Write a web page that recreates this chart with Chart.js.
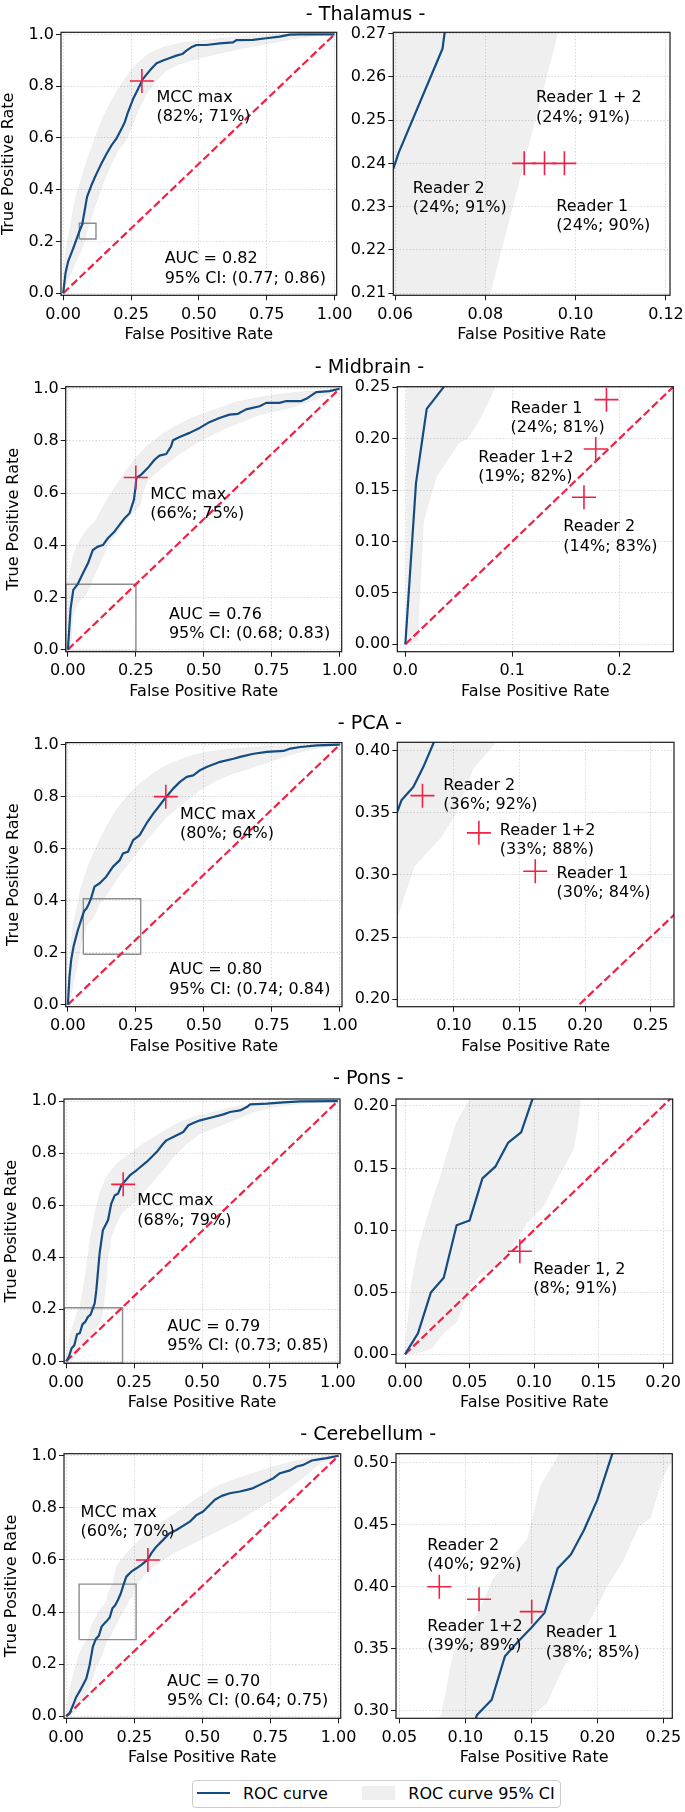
<!DOCTYPE html>
<html><head><meta charset="utf-8">
<script src="https://cdn.jsdelivr.net/npm/chart.js@4.4.1/dist/chart.umd.min.js"></script>
<style>
html,body{margin:0;padding:0;background:#fff;width:685px;height:1812px;overflow:hidden;position:relative;font-family:"DejaVu Sans";}
canvas{position:absolute;}
.ttl{position:absolute;font-size:19.2px;line-height:20px;white-space:nowrap;color:#000;transform:translateX(-50%);font-family:"DejaVu Sans";}
.lg{position:absolute;font-size:16px;line-height:20px;white-space:nowrap;color:#000;font-family:"DejaVu Sans";}
</style></head><body>
<script>
// ---------------- DATA ----------------
const regionNames = ['Thalamus', 'Midbrain', 'PCA', 'Pons', 'Cerebellum'];
const chanceLine = [[0,0],[1,1]];
const fullXTicks = [0, 0.25, 0.5, 0.75, 1];
const fullYTicks = [0, 0.2, 0.4, 0.6, 0.8, 1];

// Thalamus
const thalamusRoc = [[0,0],[0.0086,0.077],[0.018,0.122],[0.037,0.173],[0.06,0.24],[0.0608,0.2425],[0.0705,0.2665],[0.0712,0.272],[0.088,0.372],[0.104,0.417],[0.123,0.462],[0.141,0.501],[0.16,0.539],[0.178,0.571],[0.196,0.597],[0.215,0.635],[0.227,0.661],[0.239,0.70],[0.258,0.751],[0.276,0.789],[0.294,0.828],[0.319,0.86],[0.344,0.888],[0.368,0.899],[0.393,0.909],[0.417,0.918],[0.439,0.924],[0.454,0.937],[0.472,0.95],[0.491,0.959],[0.528,0.959],[0.577,0.965],[0.626,0.969],[0.638,0.978],[0.699,0.979],[0.748,0.985],[0.798,0.991],[0.834,0.999],[0.871,1],[1,1]];
const thalamusCiUpper = [[0,0],[0.0025,0.077],[0.0074,0.154],[0.022,0.231],[0.043,0.359],[0.08,0.488],[0.123,0.616],[0.147,0.68],[0.178,0.745],[0.215,0.809],[0.258,0.873],[0.313,0.924],[0.368,0.95],[0.442,0.969],[0.564,0.982],[0.687,0.995],[0.81,1],[1,1]];
const thalamusCiLower = [[0,0],[0.012,0.0385],[0.039,0.103],[0.067,0.167],[0.081,0.21],[0.096,0.27],[0.104,0.295],[0.125,0.359],[0.147,0.424],[0.172,0.488],[0.202,0.552],[0.231,0.59],[0.252,0.642],[0.276,0.706],[0.307,0.77],[0.344,0.822],[0.38,0.86],[0.429,0.886],[0.491,0.905],[0.564,0.924],[0.65,0.944],[0.748,0.963],[0.847,0.982],[0.933,0.995],[1,1]];
const thalamusMcc = [0.29, 0.82];
const thalamusMccText = ['MCC max', '(82%; 71%)'];
const thalamusAucText = ['AUC = 0.82', '95% CI: (0.77; 0.86)'];
const thalamusZoom = [0.0596, 0.1209, 0.2095, 0.2703];
const thalamusZoomXTicks = [0.06, 0.08, 0.10, 0.12];
const thalamusZoomYTicks = [0.21, 0.22, 0.23, 0.24, 0.25, 0.26, 0.27];
const thalamusReaders = [[0.0886,0.24],[0.0931,0.24],[0.0975,0.24]];
const thalamusReaderText = [['Reader 2','(24%; 91%)'],['Reader 1 + 2','(24%; 91%)'],['Reader 1','(24%; 90%)']];

// Midbrain
const midbrainRoc = [[0,0],[0.01,0.157],[0.02,0.229],[0.0356,0.25],[0.055,0.292],[0.074,0.331],[0.092,0.382],[0.11,0.395],[0.129,0.401],[0.147,0.427],[0.172,0.453],[0.19,0.478],[0.209,0.504],[0.227,0.523],[0.243,0.574],[0.248,0.613],[0.252,0.658],[0.27,0.671],[0.294,0.696],[0.319,0.728],[0.337,0.744],[0.362,0.75],[0.38,0.779],[0.387,0.803],[0.411,0.815],[0.448,0.831],[0.485,0.85],[0.521,0.872],[0.558,0.888],[0.595,0.901],[0.626,0.904],[0.656,0.921],[0.706,0.933],[0.73,0.946],[0.779,0.946],[0.804,0.953],[0.859,0.953],[0.883,0.965],[0.914,0.987],[0.963,0.991],[1,1]];
const midbrainCiUpper = [[0,0],[0.001,0.01],[0.0012,0.25],[0.008,0.30],[0.02,0.36],[0.04,0.41],[0.065,0.455],[0.1,0.49],[0.13,0.55],[0.17,0.62],[0.21,0.68],[0.25,0.735],[0.29,0.78],[0.34,0.82],[0.40,0.86],[0.46,0.89],[0.54,0.92],[0.62,0.95],[0.72,0.97],[0.82,0.985],[0.91,0.992],[1,1]];
const midbrainCiLower = [[0,0],[0.0115,0.004],[0.014,0.06],[0.017,0.12],[0.029,0.163],[0.05,0.196],[0.058,0.2],[0.07,0.22],[0.0838,0.25],[0.104,0.30],[0.147,0.40],[0.215,0.50],[0.264,0.55],[0.276,0.60],[0.294,0.65],[0.35,0.70],[0.411,0.75],[0.485,0.80],[0.583,0.85],[0.706,0.90],[0.828,0.93],[0.914,0.96],[1,1]];
const midbrainMcc = [0.25, 0.66];
const midbrainMccText = ['MCC max', '(66%; 75%)'];
const midbrainAucText = ['AUC = 0.76', '95% CI: (0.68; 0.83)'];
const midbrainZoom = [-0.0075, 0.2505, -0.0072, 0.2506];
const midbrainZoomXTicks = [0, 0.1, 0.2];
const midbrainZoomYTicks = [0, 0.05, 0.10, 0.15, 0.20, 0.25];
const midbrainReaders = [[0.188,0.238],[0.178,0.19],[0.167,0.143]];
const midbrainReaderText = [['Reader 1','(24%; 81%)'],['Reader 1+2','(19%; 82%)'],['Reader 2','(14%; 83%)']];

// PCA
const pcaRoc = [[0,0],[0.006,0.109],[0.0123,0.173],[0.021,0.224],[0.037,0.288],[0.049,0.326],[0.0568,0.351],[0.0601,0.3605],[0.069,0.371],[0.0766,0.387],[0.0843,0.406],[0.098,0.454],[0.117,0.467],[0.141,0.492],[0.166,0.531],[0.191,0.556],[0.203,0.582],[0.221,0.588],[0.24,0.633],[0.264,0.652],[0.289,0.697],[0.314,0.735],[0.338,0.767],[0.36,0.797],[0.387,0.831],[0.412,0.857],[0.437,0.876],[0.461,0.882],[0.486,0.902],[0.51,0.914],[0.56,0.934],[0.609,0.946],[0.633,0.953],[0.683,0.965],[0.732,0.972],[0.793,0.976],[0.818,0.985],[0.855,0.991],[0.916,0.997],[1,1]];
const pcaCiUpper = [[0,0],[0.0025,0.109],[0.0086,0.211],[0.018,0.30],[0.031,0.364],[0.049,0.454],[0.074,0.531],[0.105,0.607],[0.141,0.684],[0.178,0.748],[0.221,0.806],[0.264,0.85],[0.314,0.889],[0.363,0.921],[0.437,0.953],[0.51,0.972],[0.609,0.985],[0.732,0.994],[0.855,0.997],[1,1]];
const pcaCiLower = [[0,0],[0.012,0.032],[0.025,0.109],[0.037,0.16],[0.049,0.237],[0.0568,0.2664],[0.0695,0.3067],[0.0893,0.3296],[0.1008,0.3484],[0.1147,0.386],[0.1312,0.406],[0.154,0.441],[0.185,0.492],[0.215,0.531],[0.252,0.582],[0.289,0.633],[0.326,0.678],[0.363,0.722],[0.40,0.754],[0.437,0.786],[0.486,0.825],[0.547,0.863],[0.609,0.889],[0.683,0.914],[0.756,0.94],[0.83,0.965],[0.916,0.985],[1,1]];
const pcaMcc = [0.36, 0.80];
const pcaMccText = ['MCC max', '(80%; 64%)'];
const pcaAucText = ['AUC = 0.80', '95% CI: (0.74; 0.84)'];
const pcaZoom = [0.0568, 0.2678, 0.1938, 0.407];
const pcaZoomXTicks = [0.10, 0.15, 0.20, 0.25];
const pcaZoomYTicks = [0.20, 0.25, 0.30, 0.35, 0.40];
const pcaReaders = [[0.076,0.364],[0.119,0.334],[0.162,0.303]];
const pcaReaderText = [['Reader 2','(36%; 92%)'],['Reader 1+2','(33%; 88%)'],['Reader 1','(30%; 84%)']];

// Pons
const ponsRoc = [[0,0],[0.01,0.0169],[0.02,0.0497],[0.03,0.0617],[0.04,0.1039],[0.05,0.1077],[0.06,0.1417],[0.07,0.1511],[0.08,0.1705],[0.09,0.1788],[0.099,0.2062],[0.105,0.222],[0.111,0.273],[0.123,0.414],[0.135,0.503],[0.154,0.542],[0.166,0.606],[0.179,0.638],[0.191,0.644],[0.203,0.676],[0.234,0.714],[0.259,0.734],[0.296,0.766],[0.333,0.804],[0.357,0.836],[0.369,0.849],[0.394,0.862],[0.431,0.881],[0.45,0.907],[0.468,0.916],[0.493,0.926],[0.542,0.939],[0.579,0.949],[0.603,0.958],[0.64,0.964],[0.665,0.977],[0.677,0.987],[0.739,0.99],[0.8,0.995],[0.862,0.999],[1,1]];
const ponsCiUpper = [[0,0],[0.0013,0.017],[0.0052,0.057],[0.0103,0.085],[0.0206,0.122],[0.0284,0.146],[0.04,0.187],[0.0503,0.205],[0.062,0.273],[0.074,0.35],[0.086,0.452],[0.105,0.567],[0.123,0.644],[0.148,0.708],[0.185,0.759],[0.234,0.798],[0.283,0.836],[0.345,0.875],[0.406,0.913],[0.468,0.939],[0.542,0.958],[0.616,0.977],[0.69,0.99],[0.8,0.996],[1,1]];
const ponsCiLower = [[0,0],[0.009,0.0008],[0.0206,0.0048],[0.0297,0.0169],[0.04,0.0263],[0.0503,0.0545],[0.0594,0.0652],[0.0723,0.0706],[0.0813,0.0827],[0.0942,0.1055],[0.1071,0.1189],[0.1174,0.1404],[0.1303,0.1646],[0.1334,0.182],[0.136,0.206],[0.145,0.286],[0.154,0.401],[0.166,0.478],[0.185,0.529],[0.203,0.567],[0.228,0.593],[0.259,0.618],[0.296,0.663],[0.345,0.721],[0.394,0.785],[0.443,0.836],[0.493,0.875],[0.554,0.9],[0.616,0.926],[0.69,0.958],[0.764,0.977],[0.862,0.99],[1,1]];
const ponsMcc = [0.21, 0.68];
const ponsMccText = ['MCC max', '(68%; 79%)'];
const ponsAucText = ['AUC = 0.79', '95% CI: (0.73; 0.85)'];
const ponsZoom = [-0.007, 0.2075, -0.00725, 0.2056];
const ponsZoomXTicks = [0, 0.05, 0.10, 0.15, 0.20];
const ponsZoomYTicks = [0, 0.05, 0.10, 0.15, 0.20];
const ponsReaders = [[0.089,0.083]];
const ponsReaderText = [['Reader 1, 2','(8%; 91%)']];

// Cerebellum
const cerebellumRoc = [[0,0],[0.012,0.01],[0.025,0.042],[0.037,0.074],[0.055,0.106],[0.074,0.145],[0.086,0.196],[0.098,0.267],[0.109,0.297],[0.12,0.309],[0.13,0.344],[0.14,0.356],[0.15,0.367],[0.16,0.379],[0.17,0.415],[0.18,0.426],[0.19,0.446],[0.20,0.47],[0.211,0.506],[0.221,0.536],[0.239,0.555],[0.258,0.568],[0.276,0.581],[0.298,0.60],[0.313,0.626],[0.331,0.651],[0.356,0.677],[0.38,0.703],[0.405,0.715],[0.429,0.731],[0.454,0.747],[0.479,0.773],[0.503,0.786],[0.521,0.805],[0.546,0.831],[0.571,0.846],[0.601,0.856],[0.638,0.863],[0.663,0.869],[0.687,0.876],[0.724,0.895],[0.761,0.914],[0.785,0.933],[0.822,0.944],[0.847,0.959],[0.871,0.965],[0.902,0.982],[0.933,0.987],[0.957,0.991],[1,1]];
const cerebellumCiUpper = [[0,0],[0.004,0.036],[0.012,0.10],[0.031,0.177],[0.049,0.241],[0.067,0.28],[0.0821,0.297],[0.0909,0.346],[0.101,0.365],[0.111,0.381],[0.121,0.406],[0.134,0.422],[0.147,0.438],[0.157,0.481],[0.172,0.508],[0.184,0.574],[0.221,0.626],[0.258,0.664],[0.307,0.715],[0.368,0.754],[0.429,0.799],[0.491,0.844],[0.552,0.882],[0.613,0.908],[0.687,0.933],[0.761,0.959],[0.834,0.978],[0.908,0.995],[1,1]];
const cerebellumCiLower = [[0,0],[0.018,0.004],[0.037,0.023],[0.061,0.062],[0.086,0.113],[0.11,0.19],[0.125,0.22],[0.14,0.26],[0.1503,0.2968],[0.1616,0.3062],[0.173,0.333],[0.1818,0.3491],[0.197,0.3787],[0.2071,0.4001],[0.2197,0.4216],[0.2311,0.4485],[0.2399,0.4552],[0.25,0.49],[0.2568,0.502],[0.282,0.536],[0.319,0.574],[0.356,0.60],[0.393,0.626],[0.442,0.651],[0.491,0.677],[0.54,0.703],[0.589,0.728],[0.638,0.754],[0.687,0.786],[0.736,0.818],[0.785,0.85],[0.834,0.888],[0.883,0.927],[0.933,0.972],[1,1]];
const cerebellumMcc = [0.30, 0.60];
const cerebellumMccText = ['MCC max', '(60%; 70%)'];
const cerebellumAucText = ['AUC = 0.70', '95% CI: (0.64; 0.75)'];
const cerebellumZoom = [0.0475, 0.2568, 0.2941, 0.5072];
const cerebellumZoomXTicks = [0.05, 0.10, 0.15, 0.20, 0.25];
const cerebellumZoomYTicks = [0.30, 0.35, 0.40, 0.45, 0.50];
const cerebellumReaders = [[0.0803,0.40],[0.1104,0.39],[0.1503,0.38]];
const cerebellumReaderText = [['Reader 2','(40%; 92%)'],['Reader 1+2','(39%; 89%)'],['Reader 1','(38%; 85%)']];

// ---------------- LAYOUT / STYLE ----------------
const BLUE = 'rgb(20,76,130)';
const RED = 'rgb(242,32,68)';
const BAND = 'rgba(0,0,0,0.062)';
const FONT = 'DejaVu Sans';
Chart.defaults.font.family = FONT;
Chart.defaults.font.size = 16;
Chart.defaults.color = '#000';

const rows = [
  {roc: thalamusRoc, up: thalamusCiUpper, lo: thalamusCiLower, mcc: thalamusMcc, mccText: thalamusMccText, auc: thalamusAucText,
   zoom: thalamusZoom, zxt: thalamusZoomXTicks, zyt: thalamusZoomYTicks, zxd: 2, zyd: 2, readers: thalamusReaders, readerText: thalamusReaderText,
   fL: {L:61, T:32.3, R:336.7, B:295.3}, fR: {L:393.3, T:32.3, R:670, B:295.3}, titleY: 13.3,
   mccAt: [0.344, 0.740], aucAt: [0.374, 0.1155], readerAt: [[0.0639,0.2331],[0.0912,0.2541],[0.0957,0.2291]]},
  {roc: midbrainRoc, up: midbrainCiUpper, lo: midbrainCiLower, mcc: midbrainMcc, mccText: midbrainMccText, auc: midbrainAucText,
   zoom: midbrainZoom, zxt: midbrainZoomXTicks, zyt: midbrainZoomYTicks, zxd: 1, zyd: 2, readers: midbrainReaders, readerText: midbrainReaderText,
   fL: {L:65.7, T:386.7, R:341.7, B:651.7}, fR: {L:397.3, T:386.7, R:673.3, B:651.7}, titleY: 366.7,
   mccAt: [0.303, 0.577], aucAt: [0.372, 0.118], readerAt: [[0.0984,0.2255],[0.0682,0.1775],[0.1477,0.1098]]},
  {roc: pcaRoc, up: pcaCiUpper, lo: pcaCiLower, mcc: pcaMcc, mccText: pcaMccText, auc: pcaAucText,
   zoom: pcaZoom, zxt: pcaZoomXTicks, zyt: pcaZoomYTicks, zxd: 2, zyd: 2, readers: pcaReaders, readerText: pcaReaderText,
   fL: {L:65.7, T:742.6, R:342, B:1006.7}, fR: {L:397.3, T:742.3, R:674, B:1006.7}, titleY: 722.5,
   mccAt: [0.412, 0.716], aucAt: [0.3727, 0.116], readerAt: [[0.0919,0.3683],[0.135,0.3323],[0.1782,0.2975]]},
  {roc: ponsRoc, up: ponsCiUpper, lo: ponsCiLower, mcc: ponsMcc, mccText: ponsMccText, auc: ponsAucText,
   zoom: ponsZoom, zxt: ponsZoomXTicks, zyt: ponsZoomYTicks, zxd: 2, zyd: 2, readers: ponsReaders, readerText: ponsReaderText,
   fL: {L:64, T:1099, R:340, B:1363.3}, fR: {L:396, T:1099, R:672.7, B:1363.3}, titleY: 1078,
   mccAt: [0.262, 0.599], aucAt: [0.372, 0.1165], readerAt: [[0.0994,0.0645]]},
  {roc: cerebellumRoc, up: cerebellumCiUpper, lo: cerebellumCiLower, mcc: cerebellumMcc, mccText: cerebellumMccText, auc: cerebellumAucText,
   zoom: cerebellumZoom, zxt: cerebellumZoomXTicks, zyt: cerebellumZoomYTicks, zxd: 2, zyd: 2, readers: cerebellumReaders, readerText: cerebellumReaderText,
   fL: {L:64, T:1453.7, R:340.7, B:1718.3}, fR: {L:396, T:1453.7, R:672.3, B:1718.3}, titleY: 1434,
   mccAt: [0.053, 0.764], aucAt: [0.3706, 0.1154], readerAt: [[0.0712,0.4297],[0.0712,0.3647],[0.1609,0.3593]]}
];

const pts = arr => arr.map(p => ({x: p[0], y: p[1]}));
const bandShape = (up, lo) => pts(up.concat(lo.slice().reverse()));
const boxPts = z => pts([[z[0],z[2]],[z[1],z[2]],[z[1],z[3]],[z[0],z[3]],[z[0],z[2]]]);

const framePlugin = {
  id: 'frame',
  afterDatasetsDraw(chart) {
    const {ctx, chartArea: a} = chart;
    ctx.save();
    ctx.setLineDash([]);
    ctx.strokeStyle = '#1a1a1a';
    ctx.lineWidth = 1.2;
    ctx.strokeRect(a.left, a.top, a.right - a.left, a.bottom - a.top);
    ctx.restore();
  }
};
function textPlugin(items) {
  return {
    id: 'texts',
    afterDatasetsDraw(chart) {
      const {ctx, scales} = chart;
      ctx.save();
      ctx.font = '16px "DejaVu Sans"';
      ctx.fillStyle = '#000';
      ctx.textAlign = 'left';
      ctx.textBaseline = 'alphabetic';
      for (const it of items) {
        const px = scales.x.getPixelForValue(it.at[0]);
        const py = scales.y.getPixelForValue(it.at[1]);
        it.lines.forEach((l, i) => ctx.fillText(l, px, py + i * 19.2));
      }
      ctx.restore();
    }
  };
}

function axis(min, max, ticks, dec, fixedSize, horizontal, titleText, tickPad) {
  return {
    type: 'linear', min, max, bounds: 'data',
    position: horizontal ? 'bottom' : 'left',
    afterBuildTicks: s => { s.ticks = ticks.map(v => ({value: v})); },
    afterFit: s => {
      if (horizontal) { s.height = fixedSize; s.paddingLeft = 0; s.paddingRight = 0; }
      else { s.width = fixedSize; s.paddingTop = 0; s.paddingBottom = 0; }
    },
    ticks: { callback: v => Number(v).toFixed(dec), padding: tickPad, autoSkip: false, maxRotation: 0, minRotation: 0,
             color: '#000', font: {size: 16, family: FONT, lineHeight: 1.2} },
    grid: { color: '#cfcfcf', lineWidth: 0.9, drawTicks: true, tickLength: 5, tickColor: '#1a1a1a', tickWidth: 1, borderDash: [1.3, 2] },
    border: { display: false, dash: [1.3, 2] },
    title: { display: !!titleText, text: titleText || '', padding: 0, color: '#000', font: {size: 16, family: FONT, lineHeight: 1.2} }
  };
}

function buildPanel(f, xr, yr, xt, yt, xd, yd, yTitle, datasets, texts) {
  const YW = yTitle ? 61.6 : 50, XH = 49.6, PT = 16, PR = 26;
  const cl = Math.floor(f.L - YW), ct = Math.floor(f.T - PT);
  const cw = Math.ceil(f.R + PR) - cl, ch = Math.ceil(f.B + XH) - ct;
  const pad = {left: f.L - YW - cl, top: f.T - ct, right: cl + cw - f.R, bottom: ct + ch - f.B - XH};
  const cv = document.createElement('canvas');
  cv.width = cw; cv.height = ch;
  cv.style.left = cl + 'px'; cv.style.top = ct + 'px';
  cv.style.width = cw + 'px'; cv.style.height = ch + 'px';
  document.body.appendChild(cv);
  new Chart(cv, {
    type: 'line',
    data: { datasets },
    options: {
      responsive: false, maintainAspectRatio: false, animation: false, devicePixelRatio: 1, events: [],
      layout: { padding: pad },
      plugins: { legend: {display: false}, tooltip: {enabled: false}, title: {display: false} },
      scales: {
        x: axis(xr[0], xr[1], xt, xd, XH, true, 'False Positive Rate', 4.6),
        y: axis(yr[0], yr[1], yt, yd, YW, false, yTitle ? 'True Positive Rate' : '', 2)
      }
    },
    plugins: [framePlugin, textPlugin(texts)]
  });
}

function commonSets(r, markers) {
  return [
    {label: 'markers', data: pts(markers), showLine: false, pointStyle: 'cross', pointRadius: 12, pointHoverRadius: 12,
     pointBorderColor: RED, pointBackgroundColor: RED, pointBorderWidth: 1.6, order: 0, clip: 0},
    {label: 'ROC curve', data: pts(r.roc), borderColor: BLUE, borderWidth: 2.2, pointRadius: 0, fill: false,
     borderJoinStyle: 'round', order: 1, clip: 0},
    {label: 'chance', data: pts(chanceLine), borderColor: RED, borderWidth: 2.2, borderDash: [8, 3.4], pointRadius: 0, fill: false, order: 2, clip: 0},
    {label: 'ROC curve 95% CI', data: bandShape(r.up, r.lo), borderWidth: 0.8, borderColor: 'rgba(0,0,0,0.05)', backgroundColor: BAND,
     fill: 'shape', pointRadius: 0, order: 5, clip: 0}
  ];
}

const FULL = [-0.008, 1.008];
rows.forEach((r, i) => {
  // left: full ROC
  const leftSets = commonSets(r, [r.mcc]);
  leftSets.push({label: 'zoom box', data: boxPts(r.zoom), borderColor: '#8c8c8c', borderWidth: 1.4, pointRadius: 0, fill: false, order: 3, clip: 0});
  buildPanel(r.fL, FULL, FULL, fullXTicks, fullYTicks, 2, 1, true, leftSets,
    [{at: r.mccAt, lines: r.mccText}, {at: r.aucAt, lines: r.auc}]);
  // right: zoom
  buildPanel(r.fR, [r.zoom[0], r.zoom[1]], [r.zoom[2], r.zoom[3]], r.zxt, r.zyt, r.zxd, r.zyd, false,
    commonSets(r, r.readers),
    r.readerText.map((t, k) => ({at: r.readerAt[k], lines: t})));
  // row title
  const d = document.createElement('div');
  d.className = 'ttl';
  d.textContent = '- ' + regionNames[i] + ' -';
  d.style.left = ((r.fL.L + r.fR.R) / 2) + 'px';
  d.style.top = (r.titleY - 9.65) + 'px';
  document.body.appendChild(d);
});

// legend
const lgBox = document.createElement('div');
lgBox.style.cssText = 'position:absolute;left:191.5px;top:1780px;width:369px;height:28px;border:1px solid #cccccc;border-radius:4px;background:#fff;box-sizing:border-box;';
document.body.appendChild(lgBox);
const lgLine = document.createElement('div');
lgLine.style.cssText = 'position:absolute;left:197px;top:1792.3px;width:33px;height:2.2px;background:' + BLUE + ';';
document.body.appendChild(lgLine);
const lgPatch = document.createElement('div');
lgPatch.style.cssText = 'position:absolute;left:361.7px;top:1786px;width:33.3px;height:14px;background:#efefef;';
document.body.appendChild(lgPatch);
[['ROC curve', 243], ['ROC curve 95% CI', 408.3]].forEach(([t, x]) => {
  const s = document.createElement('div');
  s.className = 'lg'; s.textContent = t;
  s.style.left = x + 'px'; s.style.top = '1783.6px';
  document.body.appendChild(s);
});
</script>
</body></html>
